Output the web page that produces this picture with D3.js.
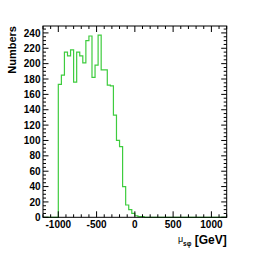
<!DOCTYPE html>
<html><head><meta charset="utf-8">
<script src="https://cdn.jsdelivr.net/npm/d3@7"></script>
<style>html,body{margin:0;padding:0;background:#fff;}svg{display:block;}</style>
</head><body>
<script>
const binLow = -1200;
const binWidth = 40;
const counts = [0,0,0,0,0,
  173,185,215,210,218,176,215,210,201,230,236,182,198,237,192,192,172,171,133,100,92,40,16,10,5,
  2,1,1,
  0,0,0,0,0,0,0,0,0,0,0,0,0,0,0,0,0,0,0,0,0,0,0,0,0,0,0];
const xTicks = [-1000,-500,0,500,1000];
const yTicks = [0,20,40,60,80,100,120,140,160,180,200,220,240];
const xDomain = [-1200,1200];
const yDomain = [0,249];

const W=270,H=259;
const L=43,R=226.7,T=26,B=217.3;
const svg=d3.select("body").append("svg").attr("width",W).attr("height",H);
svg.append("rect").attr("width",W).attr("height",H).attr("fill","#fff");
const x=d3.scaleLinear().domain(xDomain).range([L,R]);
const y=d3.scaleLinear().domain(yDomain).range([B,T]);

// histogram step path
const pts=[];
pts.push([binLow, 0]);
counts.forEach((c,i)=>{const x0=binLow+i*binWidth;pts.push([x0,c]);pts.push([x0+binWidth,c]);});
pts.push([binLow+counts.length*binWidth,0]);
const line=d3.line().x(d=>x(d[0])).y(d=>y(d[1]));
svg.append("path").attr("d",line(pts)).attr("fill","none").attr("stroke","#3ecc3e").attr("stroke-width",1.2);

const font="'Liberation Sans', Arial, sans-serif";
// frame
svg.append("rect").attr("x",L).attr("y",T).attr("width",R-L).attr("height",B-T)
  .attr("fill","none").attr("stroke","#000").attr("stroke-width",1);

// ticks
const g=svg.append("g").attr("stroke","#000").attr("stroke-width",1);
const xMinor=d3.range(-1200,1201,100);
xMinor.forEach(v=>{
  const major=xTicks.includes(v);
  const len=major?6:3;
  g.append("line").attr("x1",x(v)).attr("x2",x(v)).attr("y1",B).attr("y2",B-len);
  g.append("line").attr("x1",x(v)).attr("x2",x(v)).attr("y1",T).attr("y2",T+len);
});
const yMinor=d3.range(0,249,5);
yMinor.forEach(v=>{
  const major=yTicks.includes(v);
  const len=major?5.5:3;
  g.append("line").attr("x1",L).attr("x2",L+len).attr("y1",y(v)).attr("y2",y(v));
  g.append("line").attr("x1",R).attr("x2",R-len).attr("y1",y(v)).attr("y2",y(v));
});

// labels
svg.selectAll("text.yl").data(yTicks).enter().append("text")
  .attr("x",40.5).attr("y",d=>y(d)+3.6).attr("text-anchor","end")
  .attr("font-family",font).attr("font-weight","bold").attr("font-size",10).text(d=>d);
svg.selectAll("text.xl").data(xTicks).enter().append("text")
  .attr("x",d=>x(d)).attr("y",227.5).attr("text-anchor","middle")
  .attr("font-family",font).attr("font-weight","bold").attr("font-size",10).text(d=>d);

// y title
svg.append("text").attr("transform","translate(16,26) rotate(-90)")
  .attr("text-anchor","end").attr("font-family",font).attr("font-weight","bold").attr("font-size",11)
  .text("Numbers");
// x title
const xt=svg.append("text").attr("x",R).attr("y",244).attr("text-anchor","end")
  .attr("font-family",font).attr("font-weight","bold").attr("font-size",12);
xt.append("tspan").attr("font-weight","normal").attr("font-size",9).attr("dy",-2).text("μ");
xt.append("tspan").attr("font-size",6.5).attr("dy",4).text("sφ");
xt.append("tspan").attr("dy",-2).text(" [GeV]");
</script>
</body></html>
